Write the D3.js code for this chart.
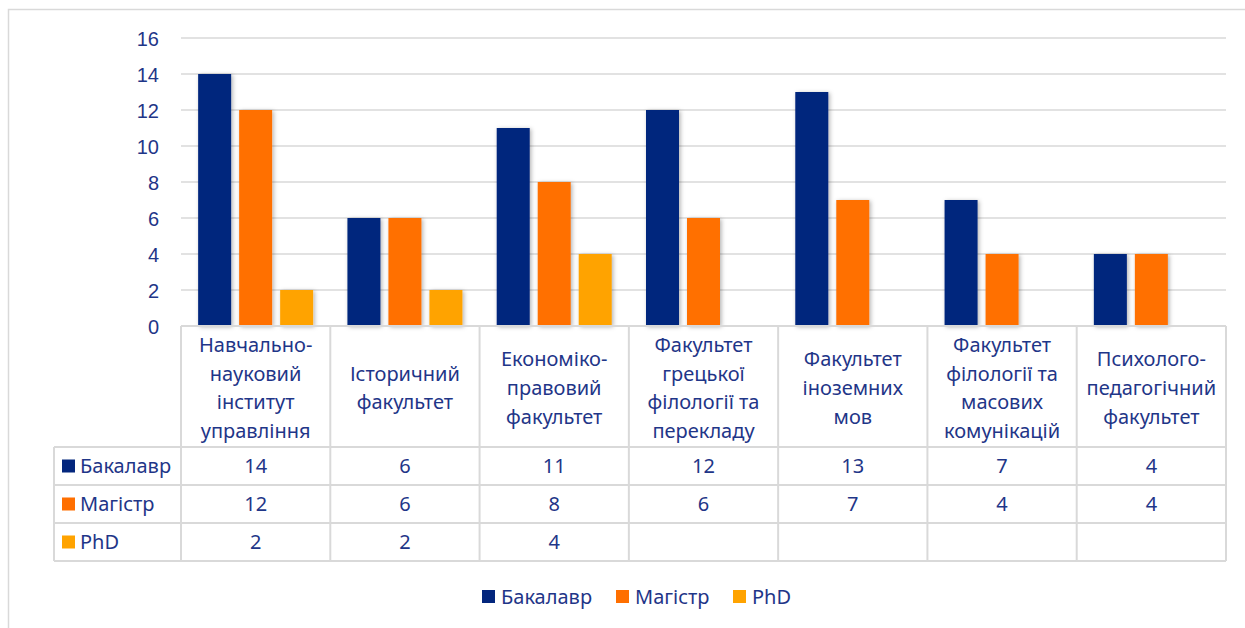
<!DOCTYPE html>
<html><head><meta charset="utf-8">
<script src="https://cdn.jsdelivr.net/npm/d3@7"></script>
<style>
html,body{margin:0;padding:0;background:#fff;}
svg{display:block;font-family:"Noto Sans",sans-serif;}
</style></head>
<body>
<svg id="c" width="1245" height="628"></svg>
<script>
const categories = [
  ["Навчально-","науковий","інститут","управління"],
  ["Історичний","факультет"],
  ["Економіко-","правовий","факультет"],
  ["Факультет","грецької","філології та","перекладу"],
  ["Факультет","іноземних","мов"],
  ["Факультет","філології та","масових","комунікацій"],
  ["Психолого-","педагогічний","факультет"]
];
const seriesNames = ["Бакалавр","Магістр","PhD"];
const bachelor = [14, 6, 11, 12, 13, 7, 4];
const master = [12, 6, 8, 6, 7, 4, 4];
const phd = [2, 2, 4, null, null, null, null];
const yTicks = [0, 2, 4, 6, 8, 10, 12, 14, 16];
const colors = ["#03267d", "#ff6f00", "#ffa300"];

(function(){
const series = [bachelor, master, phd];
const textColor = "#1f3688";
const gridColor = "#d9d9d9";
const fs = 20;

const svg = d3.select("#c");
const defs = svg.append("defs");
const f = defs.append("filter").attr("id","sh").attr("x","-30%").attr("y","-10%").attr("width","160%").attr("height","130%");
f.append("feDropShadow").attr("dx",1.5).attr("dy",1).attr("stdDeviation",2).attr("flood-color","#000").attr("flood-opacity",0.3);

svg.append("rect").attr("x",8.5).attr("y",9.5).attr("width",1250).attr("height",640)
  .attr("fill","none").attr("stroke",gridColor).attr("stroke-width",1.5);

const pl = 181, pr = 1226, pt = 38, base = 326;
const x = d3.scaleBand().domain(d3.range(categories.length)).range([pl, pr]);
const y = d3.scaleLinear().domain([0, 16]).range([base, pt]);

svg.append("g").selectAll("line").data(yTicks.filter(d=>d>0)).join("line")
  .attr("x1", pl).attr("x2", pr).attr("y1", d=>y(d)).attr("y2", d=>y(d))
  .attr("stroke", gridColor).attr("stroke-width",1.5);

const yAxis = d3.axisLeft(y).tickValues(yTicks).tickSize(0).tickPadding(0);
const ya = svg.append("g").attr("transform",`translate(159,0)`).call(yAxis);
ya.select(".domain").remove();
ya.selectAll("text").attr("fill",textColor).attr("font-size",fs).attr("font-family",null).attr("dy","0.35em");

const bw = 33, step = 41;
const g = svg.append("g");
series.forEach((vals, si) => {
  g.append("g").selectAll("rect").data(vals.map((v,i)=>({v,i})).filter(d=>d.v!=null)).join("rect")
    .attr("x", d => x(d.i) + x.bandwidth()/2 + (si-1)*step - bw/2)
    .attr("width", bw)
    .attr("y", d => y(d.v))
    .attr("height", d => y(0) - y(d.v))
    .attr("fill", colors[si])
    .attr("filter","url(#sh)");
});

const rowTop = [326, 447, 485, 523, 561];
const tableLeft = 54;
const tg = svg.append("g");
const lineAttr = s => s.attr("stroke", gridColor).attr("stroke-width", 2);
tg.append("line").attr("x1", pl).attr("x2", pr).attr("y1", rowTop[0]).attr("y2", rowTop[0]).call(lineAttr);
rowTop.slice(1).forEach(r => tg.append("line").attr("x1", tableLeft).attr("x2", pr).attr("y1", r).attr("y2", r).call(lineAttr));
tg.append("line").attr("x1", tableLeft).attr("x2", tableLeft).attr("y1", rowTop[1]).attr("y2", rowTop[4]).call(lineAttr);
d3.range(categories.length+1).forEach(i => {
  const xx = i < categories.length ? x(i) : pr;
  tg.append("line").attr("x1", xx).attr("x2", xx).attr("y1", rowTop[0]).attr("y2", rowTop[4]).call(lineAttr);
});

const lh = 28.7, headerMid = 388;
categories.forEach((lines, i) => {
  const t = tg.append("text").attr("text-anchor","middle").attr("fill",textColor).attr("font-size",fs);
  const start = headerMid - (lines.length-1)*lh/2;
  lines.forEach((ln, k) => {
    t.append("tspan").attr("x", x(i)+x.bandwidth()/2).attr("y", start + k*lh).attr("dy","0.35em").text(ln);
  });
});

series.forEach((vals, si) => {
  const cy = (rowTop[si+1] + rowTop[si+2]) / 2;
  tg.append("rect").attr("x", 62).attr("y", cy-6.5).attr("width", 13).attr("height", 13).attr("fill", colors[si]);
  tg.append("text").attr("x", 80).attr("y", cy).attr("dy","0.35em").attr("fill",textColor).attr("font-size",fs).text(seriesNames[si]);
  vals.forEach((v, i) => {
    if (v == null) return;
    tg.append("text").attr("x", x(i)+x.bandwidth()/2).attr("y", cy).attr("dy","0.35em")
      .attr("text-anchor","middle").attr("fill",textColor).attr("font-size",fs).text(v);
  });
});

const legX = [482, 616, 733];
const lg = svg.append("g");
seriesNames.forEach((n, si) => {
  lg.append("rect").attr("x", legX[si]).attr("y", 590).attr("width", 13).attr("height", 13).attr("fill", colors[si]);
  lg.append("text").attr("x", legX[si]+19).attr("y", 597).attr("dy","0.35em").attr("fill",textColor).attr("font-size",fs).text(n);
});
})();
</script>
</body></html>
